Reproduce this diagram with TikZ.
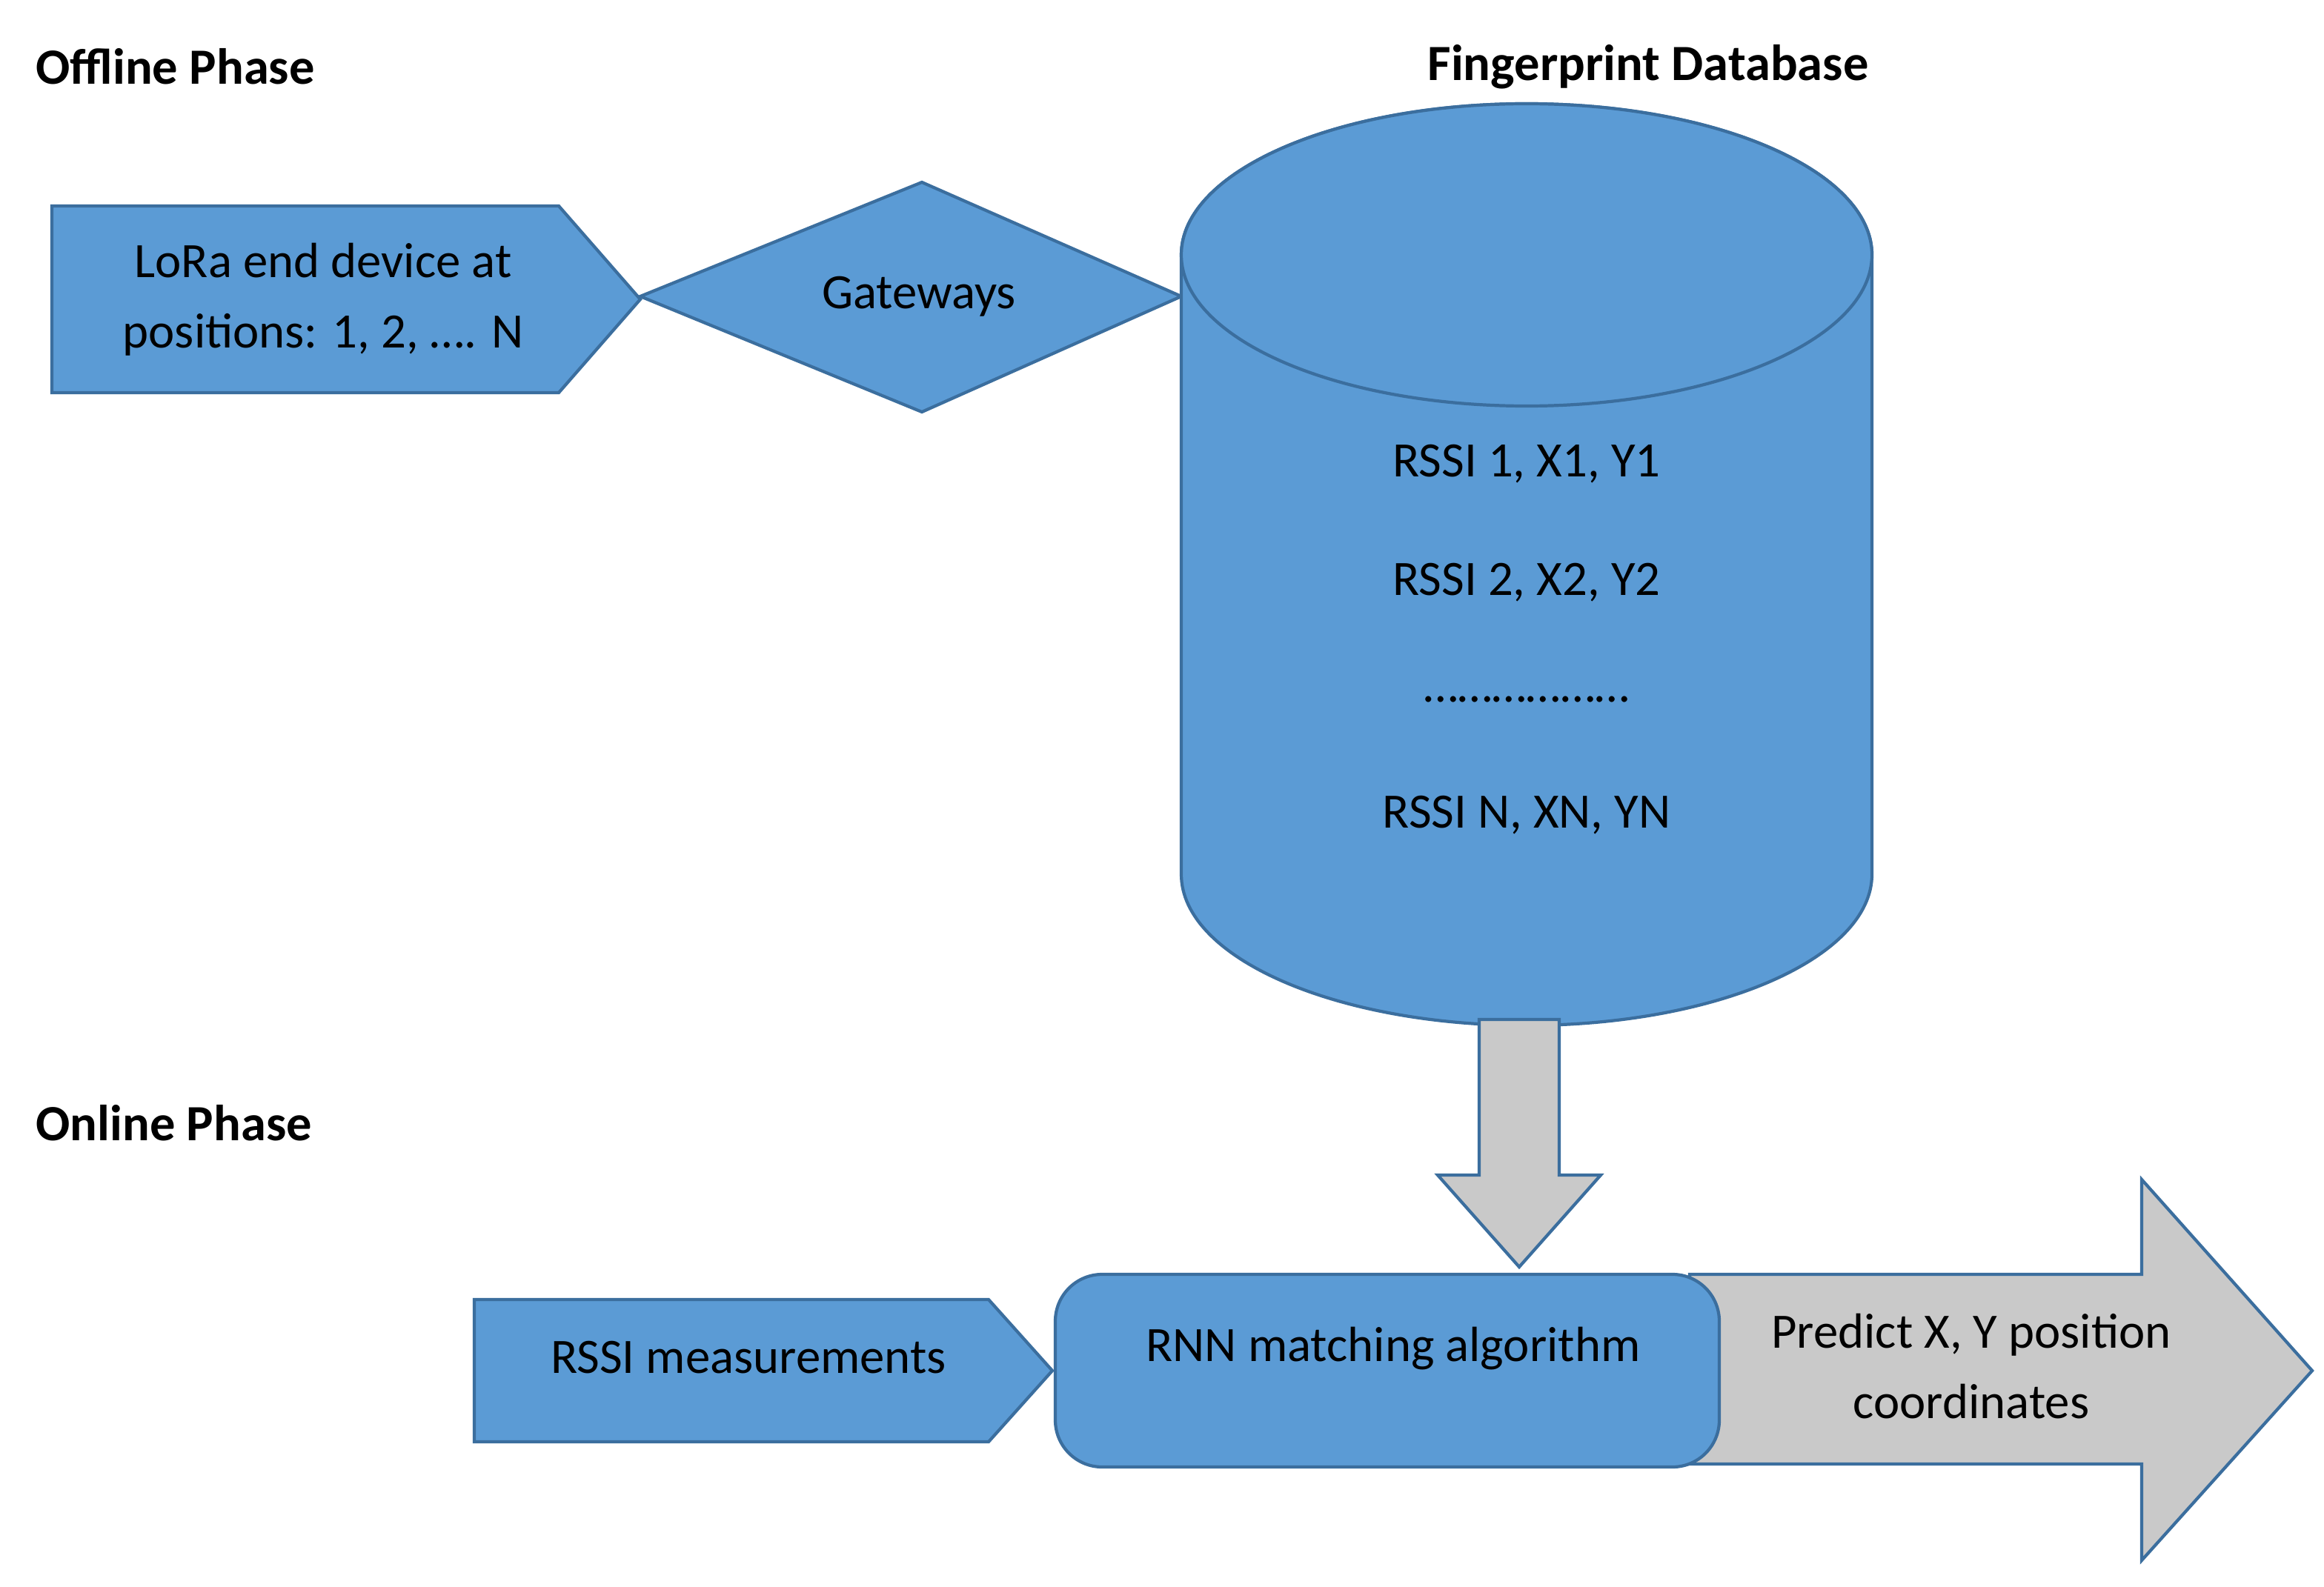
\documentclass[tikz,border=0pt]{standalone}
\usepackage{fontspec}
\setmainfont{Carlito}
\begin{document}
\begin{tikzpicture}[x=0.02cm,y=-0.02cm,
  blu/.style={fill=bfill,draw=bdraw,line width=1.2pt,line join=miter},
  gry/.style={fill=gfill,draw=bdraw,line width=1.2pt},
  txt/.style={font=\fontsize{19}{27}\selectfont,align=center},
  hd/.style={font=\fontsize{19.5}{22}\selectfont\bfseries}]
\definecolor{bfill}{HTML}{5B9BD5}
\definecolor{bdraw}{HTML}{3B6E9E}
\definecolor{gfill}{HTML}{C9C9C9}
\useasboundingbox (0,0) rectangle (1568,1071);
\node[hd,anchor=west] (off) at (18,45) {Offline Phase};
\node[hd] (fdb) at (1112,45) {Fingerprint Database};
\node[hd,anchor=west] (on) at (18,758) {Online Phase};
% LoRa pentagon
\draw[blu] (35,139) -- (377,139) -- (432,202) -- (377,265) -- (35,265) -- cycle;
\node[txt] (lora) at (218,202) {LoRa end device at\\positions: 1, 2, \dots. N};
% Gateways diamond
\draw[blu] (432,200) -- (622,123) -- (797,200) -- (622,278) -- cycle;
\node[txt] (gw) at (620,200) {Gateways};
% cylinder
\draw[blu] (797,172) -- (797,590) arc[start angle=180,end angle=0,x radius=233,y radius=102] -- (1263,172) arc[start angle=0,end angle=-180,x radius=233,y radius=102] -- cycle;
\draw[blu] (1030,172) ellipse[x radius=233,y radius=102];
\node[txt] (r1) at (1030,313) {RSSI 1, X1, Y1};
\node[txt] (r2) at (1030,393) {RSSI 2, X2, Y2};
\node[txt] (rd) at (1030,472) {\dots\dots\dots\dots\dots\dots};
\node[txt] (rn) at (1030,550) {RSSI N, XN, YN};
% down arrow
\draw[gry] (998,688) -- (1052,688) -- (1052,793) -- (1080,793) -- (1025,855) -- (970,793) -- (998,793) -- cycle;
% RSSI measurements
\draw[blu] (320,877) -- (667,877) -- (710,925) -- (667,973) -- (320,973) -- cycle;
\node[txt] (meas) at (505,916) {RSSI measurements};
% big arrow
\draw[gry] (1140,860) -- (1445,860) -- (1445,796) -- (1560,925) -- (1445,1053) -- (1445,988) -- (1140,988) -- cycle;
\node[txt] (pred) at (1330,922) {Predict X, Y position\\coordinates};
% RNN
\draw[blu,rounded corners=18] (712,860) rectangle (1160,990);
\node[txt] (rnn) at (940,910) {RNN matching algorithm};
\end{tikzpicture}
\end{document}
